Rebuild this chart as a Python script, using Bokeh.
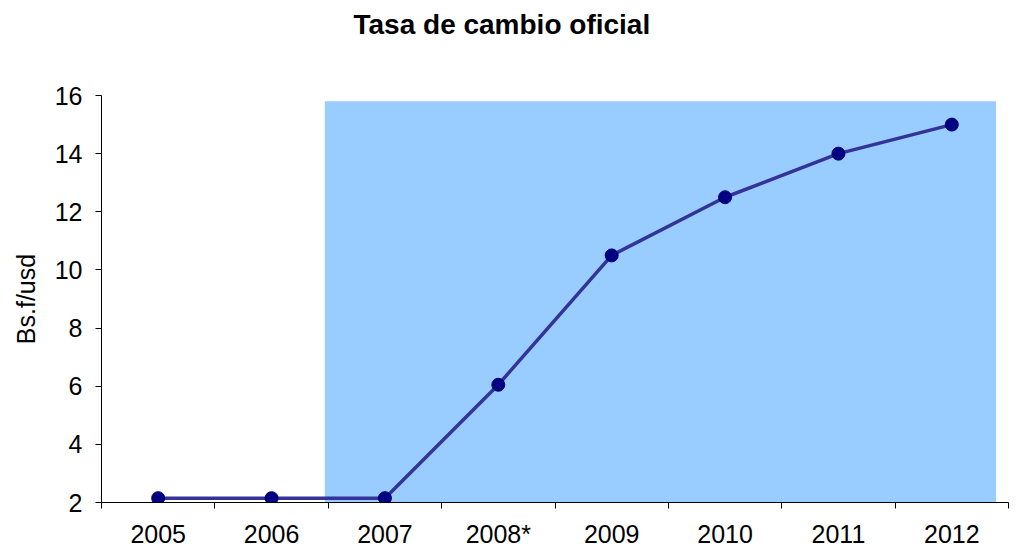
from bokeh.plotting import figure
from bokeh.models import FixedTicker, Range1d, Title, ColumnDataSource
from bokeh.embed import file_html
from bokeh.resources import INLINE

# ---- data ----
years = ["2005", "2006", "2007", "2008*", "2009", "2010", "2011", "2012"]
rate = [2.15, 2.15, 2.15, 6.05, 10.5, 12.5, 14.0, 15.0]
y_ticks = [2, 4, 6, 8, 10, 12, 14, 16]
band_years = ["2007", "2012"]
band_top = [15.8]
title_text = "Tasa de cambio oficial"

FONT = "Liberation Sans"

xs = [i + 0.5 for i in range(len(years))]
src = ColumnDataSource(dict(x=xs, y=rate))

p = figure(width=1009, height=550, output_backend="svg", toolbar_location=None,
           x_range=Range1d(0, len(years)), y_range=Range1d(min(y_ticks), max(y_ticks)),
           min_border_left=101, min_border_right=1, min_border_top=95, min_border_bottom=48)

# trailing empty line lifts the title to the top of the canvas
p.title = Title(text=title_text + "\n", align="left", offset=252, standoff=0,
                vertical_align="bottom", text_line_height=1.8,
                text_font=FONT, text_font_size="28px", text_font_style="bold",
                text_color="black")

# shaded band
b0 = years.index(band_years[0])
b1 = years.index(band_years[1])
p.quad(left=[b0 - 0.03], right=[b1 + 0.89], bottom=[min(y_ticks)], top=band_top,
       fill_color="#99CCFF", line_color=None)

p.line("x", "y", source=src, line_color="#333399", line_width=3.5)
p.scatter("x", "y", source=src, size=13, fill_color="#000080", line_color="#000080")

# axes
p.grid.visible = False
p.outline_line_color = None

xa = p.xaxis[0]
xa.ticker = FixedTicker(ticks=xs, minor_ticks=list(range(len(years) + 1)))
xa.major_label_overrides = {x: y for x, y in zip(xs, years)}
xa.major_tick_out = 0
xa.major_tick_in = 0
xa.minor_tick_out = 6
xa.minor_tick_in = 0
xa.minor_tick_line_color = "black"
xa.axis_line_color = "black"
xa.major_label_text_font = FONT
xa.major_label_text_font_size = "25px"
xa.major_label_text_color = "black"
xa.major_label_standoff = 11

ya = p.yaxis[0]
ya.ticker = FixedTicker(ticks=y_ticks)
ya.major_tick_out = 6
ya.major_tick_in = 0
ya.minor_tick_out = 0
ya.minor_tick_in = 0
ya.axis_line_color = "black"
ya.major_tick_line_color = "black"
ya.major_label_text_font = FONT
ya.major_label_text_font_size = "25px"
ya.major_label_text_color = "black"
ya.major_label_standoff = 13
ya.axis_label = "Bs.f/usd"
ya.axis_label_text_font = FONT
ya.axis_label_text_font_size = "25px"
ya.axis_label_text_font_style = "normal"
ya.axis_label_text_color = "black"
ya.axis_label_standoff = 12

open("out.html", "w").write(file_html(p, INLINE))
